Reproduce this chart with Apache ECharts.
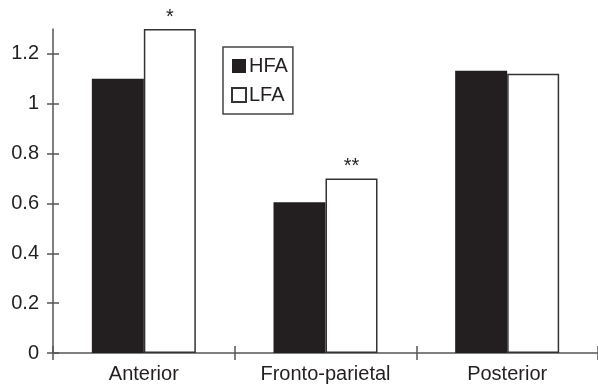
<!DOCTYPE html>
<html><head><meta charset="utf-8">
<script src="https://cdn.jsdelivr.net/npm/echarts@6/dist/echarts.min.js"></script>
<style>html,body{margin:0;padding:0;background:#fff}#c{width:598px;height:384px}</style>
</head><body><div id="c"></div>
<script>
const categories = ['Anterior', 'Fronto-parietal', 'Posterior'];
const hfa = [1.1, 0.605, 1.132];
const lfa = [1.3, 0.70, 1.12];
const significance = ['*', '**', ''];
const yTicks = [0, 0.2, 0.4, 0.6, 0.8, 1, 1.2];

const ink = '#231f20';
const axisColor = '#555';
const font = 'Liberation Sans, Arial, sans-serif';
const chart = echarts.init(document.getElementById('c'), null, {renderer: 'canvas'});
const yBase = {
  type: 'value', min: 0, max: 1.3, interval: 0.2,
  splitLine: {show: false}
};
chart.setOption({
  animation: false,
  textStyle: {fontFamily: font},
  grid: {left: 53, right: -2, top: 29, bottom: 29, containLabel: false},
  legend: {
    orient: 'vertical', left: 223, top: 47,
    padding: [9, 5, 9, 8], itemGap: 9,
    itemWidth: 14, itemHeight: 14,
    borderColor: '#444', borderWidth: 1.5,
    textStyle: {fontSize: 20, color: ink, fontFamily: font, padding: [0, 0, 0, -2]},
    data: [
      {name: 'HFA', icon: 'rect'},
      {name: 'LFA', icon: 'rect'}
    ]
  },
  xAxis: [
    {
      type: 'category', data: categories, position: 'bottom',
      axisLine: {lineStyle: {color: axisColor, width: 1.5}},
      axisTick: {show: true, inside: false, length: 7, lineStyle: {color: axisColor, width: 1.5}},
      axisLabel: {fontSize: 20, color: ink, margin: 11, fontFamily: font}
    },
    {
      type: 'category', data: categories, position: 'bottom',
      axisLine: {show: false},
      axisTick: {show: true, inside: true, length: 7, lineStyle: {color: axisColor, width: 1.5}},
      axisLabel: {show: false}
    }
  ],
  yAxis: [
    Object.assign({}, yBase, {
      axisLine: {show: true, lineStyle: {color: axisColor, width: 1.5}},
      axisTick: {show: true, inside: false, length: 6, customValues: yTicks, lineStyle: {color: axisColor, width: 1.5}},
      axisLabel: {fontSize: 20, color: ink, margin: 14, customValues: yTicks, fontFamily: font}
    }),
    Object.assign({}, yBase, {
      position: 'left',
      axisLine: {show: false},
      axisTick: {show: true, inside: true, length: 6, customValues: yTicks, lineStyle: {color: axisColor, width: 1.5}},
      axisLabel: {show: false}
    })
  ],
  series: [
    {
      name: 'HFA', type: 'bar', data: hfa, barWidth: 52, barGap: '0%',
      itemStyle: {color: ink, borderColor: ink, borderWidth: 0}
    },
    {
      name: 'LFA', type: 'bar', data: lfa, barWidth: 52,
      itemStyle: {color: '#fff', borderColor: '#333', borderWidth: 1.5},
      label: {
        show: true, position: 'top', distance: 2,
        fontSize: 20, color: ink, fontFamily: font,
        formatter: p => significance[p.dataIndex]
      }
    }
  ]
});
</script>
</body></html>
